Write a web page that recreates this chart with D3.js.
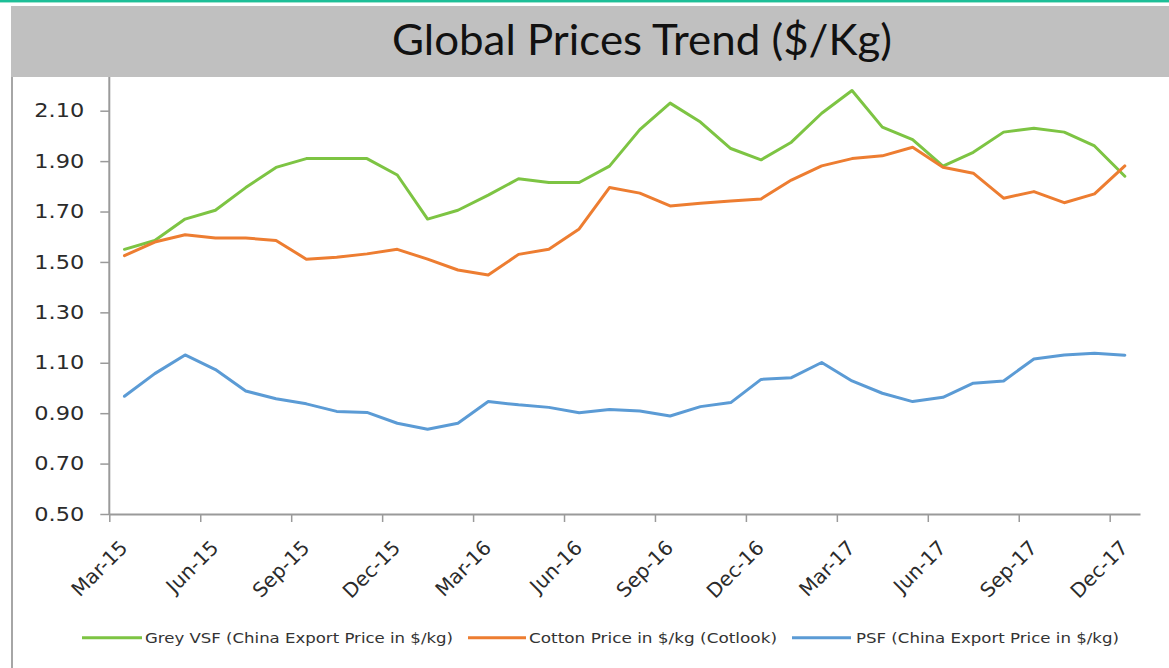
<!DOCTYPE html>
<html><head><meta charset="utf-8">
<script src="https://cdn.jsdelivr.net/npm/d3@7"></script>
<style>body{margin:0;background:#fff;} svg{display:block;}</style>
</head><body><svg id="c" width="1169" height="668"></svg>
<script>
const months = ["Mar-15","Apr-15","May-15","Jun-15","Jul-15","Aug-15","Sep-15","Oct-15","Nov-15","Dec-15","Jan-16","Feb-16",
  "Mar-16","Apr-16","May-16","Jun-16","Jul-16","Aug-16","Sep-16","Oct-16","Nov-16","Dec-16","Jan-17","Feb-17",
  "Mar-17","Apr-17","May-17","Jun-17","Jul-17","Aug-17","Sep-17","Oct-17","Nov-17","Dec-17"];
const greyVSF = [1.55,1.585,1.67,1.705,1.795,1.875,1.91,1.91,1.91,1.845,1.67,1.705,1.765,1.83,1.815,1.815,1.88,2.025,2.13,2.055,1.95,1.905,1.975,2.09,2.18,2.035,1.985,1.88,1.935,2.015,2.03,2.015,1.96,1.84];
const cotton = [1.525,1.579,1.608,1.595,1.595,1.585,1.511,1.519,1.532,1.55,1.511,1.468,1.448,1.53,1.55,1.631,1.795,1.773,1.722,1.733,1.742,1.75,1.825,1.881,1.91,1.921,1.955,1.876,1.852,1.753,1.779,1.735,1.77,1.881];
const psf = [0.967,1.057,1.131,1.073,0.988,0.957,0.937,0.907,0.903,0.86,0.836,0.86,0.946,0.933,0.923,0.902,0.915,0.909,0.889,0.926,0.942,1.034,1.041,1.101,1.028,0.979,0.946,0.963,1.019,1.028,1.115,1.131,1.138,1.13];
const yTicks = [0.5,0.7,0.9,1.1,1.3,1.5,1.7,1.9,2.1];
const xTickLabels = ["Mar-15","Jun-15","Sep-15","Dec-15","Mar-16","Jun-16","Sep-16","Dec-16","Mar-17","Jun-17","Sep-17","Dec-17"];
const seriesNames = ["Grey VSF (China Export Price in $/kg)","Cotton Price in $/kg (Cotlook)","PSF (China Export Price in $/kg)"];
const seriesColors = ["#7dc443","#ed7d31","#5b9bd5"];
const title = "Global Prices Trend ($/Kg)";

const svg = d3.select("#c");
const series = [greyVSF, cotton, psf];

// top teal rule
svg.append("rect").attr("x",0).attr("y",0).attr("width",1169).attr("height",2).attr("fill","#1dbf98");
svg.append("rect").attr("x",0).attr("y",2).attr("width",1169).attr("height",1).attr("fill","#9fe3cf");
// left frame line
svg.append("rect").attr("x",11).attr("y",77).attr("width",2).attr("height",591).attr("fill","#a6a6a6");

const x = d3.scaleLinear().domain([0, months.length]).range([109.3, 1140]);
const y = d3.scaleLinear().domain([0.5, 2.1]).range([514, 110.7]);

// y axis
const yAxis = d3.axisLeft(y).tickValues(yTicks).tickFormat(d3.format(".2f")).tickSize(9).tickPadding(16);
const gy = svg.append("g").attr("transform","translate(109.3,0)").call(yAxis);
gy.select(".domain").remove();
gy.append("line").attr("x1",0).attr("x2",0).attr("y1",y(0.5)).attr("y2",77).attr("stroke","#9a9a9a").attr("stroke-width",2);
gy.selectAll(".tick line").attr("stroke","#9a9a9a").attr("stroke-width",1.5);
gy.selectAll(".tick text").attr("fill","#2b2b2b").style("font-family","DejaVu Sans").style("font-size","19px")
  .attr("textLength",50).attr("lengthAdjust","spacingAndGlyphs");

// x axis
const xAxis = d3.axisBottom(x).tickValues(d3.range(0, months.length, 3)).tickFormat(i => xTickLabels[i/3]).tickSize(8).tickSizeOuter(0);
const gx = svg.append("g").attr("transform","translate(0,514)").call(xAxis);
gx.select(".domain").attr("stroke","#9a9a9a").attr("stroke-width",2);
gx.selectAll(".tick line").attr("stroke","#9a9a9a").attr("stroke-width",1.5);
gx.selectAll(".tick text").attr("fill","#2b2b2b").style("font-family","DejaVu Sans").style("font-size","20px")
  .attr("text-anchor","end").attr("x",null).attr("y",null).attr("dy","0.35em")
  .attr("transform","translate(14,30) rotate(-45)");

// lines
const line = d3.line().x((d,i) => x(i + 0.5)).y(d => y(d));
series.forEach((s, k) => {
  svg.append("path").datum(s).attr("d", line).attr("fill","none")
    .attr("stroke", seriesColors[k]).attr("stroke-width",3).attr("stroke-linejoin","round").attr("stroke-linecap","round");
});

// title bar (on top)
svg.append("rect").attr("x",11).attr("y",6).attr("width",1158).attr("height",71).attr("fill","#c0c0c0");
svg.append("text").attr("x",642).attr("y",55).attr("text-anchor","middle")
  .style("font-family","Lato").style("font-size","42px").attr("fill","#111")
  .attr("textLength",500).attr("lengthAdjust","spacingAndGlyphs").text(title);

// legend
const legend = [
  {x1:82, x2:142, tx:145, tw:308},
  {x1:468, x2:526, tx:529, tw:248},
  {x1:792, x2:851, tx:856, tw:263}
];
legend.forEach((L, k) => {
  svg.append("line").attr("x1",L.x1).attr("x2",L.x2).attr("y1",637.7).attr("y2",637.7)
    .attr("stroke",seriesColors[k]).attr("stroke-width",3);
  svg.append("text").attr("x",L.tx).attr("y",637.7).attr("dy","0.35em")
    .style("font-family","DejaVu Sans").style("font-size","14px").attr("fill","#333")
    .attr("textLength",L.tw).attr("lengthAdjust","spacingAndGlyphs").text(seriesNames[k]);
});
</script></body></html>
